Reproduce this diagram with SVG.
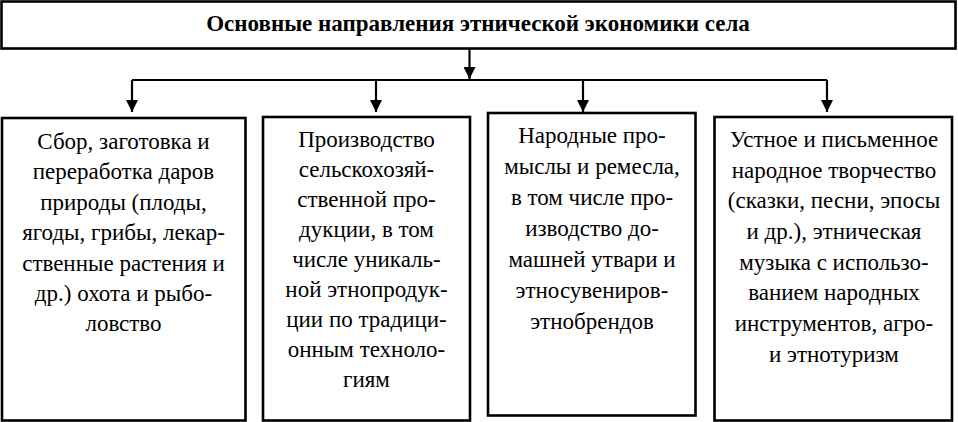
<svg xmlns="http://www.w3.org/2000/svg" width="958" height="422" viewBox="0 0 958 422">
<style>
.box{fill:#fff;stroke:#000;stroke-width:2.6}
.t{font-family:'Liberation Serif','Times New Roman',serif;font-size:23px;fill:#000;text-anchor:middle}
.title{font-weight:bold;font-size:23px}
.ln{fill:none;stroke:#000;stroke-width:2.2}
</style>
<defs>
<marker id="ah" markerUnits="userSpaceOnUse" markerWidth="14" markerHeight="12" refX="12" refY="6" orient="auto">
<path d="M0,0 L12,6 L0,12 Z" fill="#000"/>
</marker>
</defs>
<rect width="958" height="422" fill="#fff"/>
<g id="top">
<rect class="box" x="1.5" y="1.5" width="954" height="47"/>
<text class="t title" x="478" y="31">Основные направления этнической экономики села</text>
</g>
<g id="connectors">
<line class="ln" x1="469.5" y1="49" x2="469.5" y2="79" stroke-width="2.8" marker-end="url(#ah)"/>
<line class="ln" x1="132" y1="80" x2="827" y2="80"/>
<line class="ln" x1="132" y1="80" x2="132" y2="112" marker-end="url(#ah)"/>
<line class="ln" x1="376" y1="80" x2="376" y2="112" marker-end="url(#ah)"/>
<line class="ln" x1="583" y1="80" x2="583" y2="112" marker-end="url(#ah)"/>
<line class="ln" x1="827" y1="80" x2="827" y2="112" marker-end="url(#ah)"/>
</g>
<g id="n1">
<rect class="box" x="2" y="118" width="243.5" height="302.5"/>
<text class="t"><tspan x="123.5" y="149">Сбор, заготовка и</tspan><tspan x="123.5" y="179">переработка даров</tspan><tspan x="123.5" y="210">природы (плоды,</tspan><tspan x="123.5" y="240">ягоды, грибы, лекар-</tspan><tspan x="123.5" y="271">ственные растения и</tspan><tspan x="123.5" y="301">др.) охота и рыбо-</tspan><tspan x="123.5" y="331">ловство</tspan></text>
</g>
<g id="n2">
<rect class="box" x="263" y="117" width="207" height="303.5"/>
<text class="t"><tspan x="366.5" y="147">Производство</tspan><tspan x="366.5" y="177">сельскохозяй-</tspan><tspan x="366.5" y="207">ственной про-</tspan><tspan x="366.5" y="237">дукции, в том</tspan><tspan x="366.5" y="267">числе уникаль-</tspan><tspan x="366.5" y="297">ной этнопродук-</tspan><tspan x="366.5" y="327">ции по традици-</tspan><tspan x="366.5" y="357">онным техноло-</tspan><tspan x="366.5" y="387">гиям</tspan></text>
</g>
<g id="n3">
<rect class="box" x="488" y="113" width="207.5" height="302.5"/>
<text class="t"><tspan x="592" y="143">Народные про-</tspan><tspan x="592" y="174">мыслы и ремесла,</tspan><tspan x="592" y="205">в том числе про-</tspan><tspan x="592" y="236">изводство до-</tspan><tspan x="592" y="267">машней утвари и</tspan><tspan x="592" y="298">этносувениров-</tspan><tspan x="592" y="329">этнобрендов</tspan></text>
</g>
<g id="n4">
<rect class="box" x="714.5" y="117" width="237.5" height="303.5"/>
<text class="t"><tspan x="834" y="147">Устное и письменное</tspan><tspan x="834" y="178">народное творчество</tspan><tspan x="834" y="208">(сказки, песни, эпосы</tspan><tspan x="834" y="239">и др.), этническая</tspan><tspan x="834" y="270">музыка с использо-</tspan><tspan x="834" y="300">ванием народных</tspan><tspan x="834" y="331">инструментов, агро-</tspan><tspan x="834" y="362">и этнотуризм</tspan></text>
</g>
</svg>
